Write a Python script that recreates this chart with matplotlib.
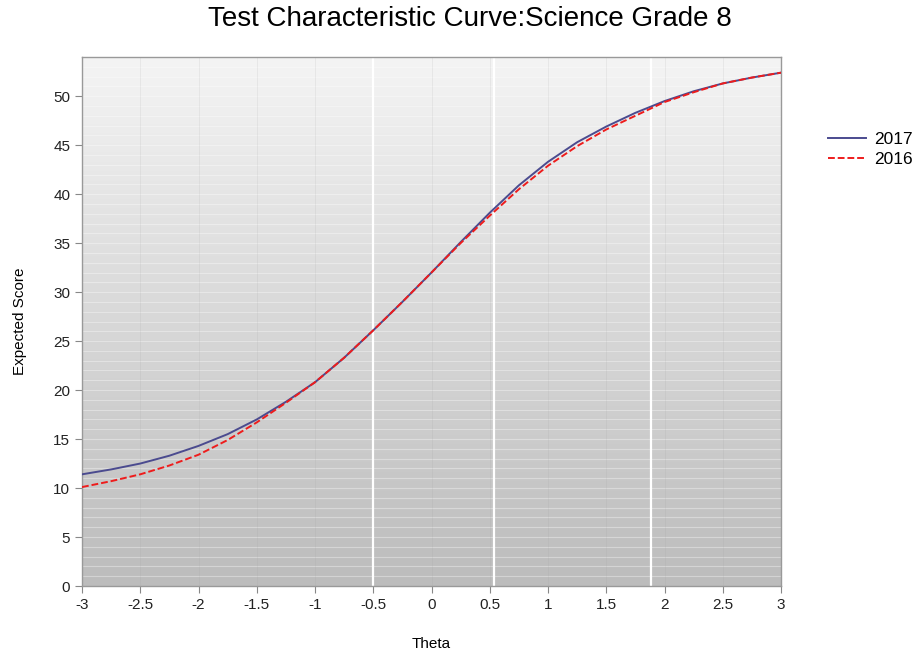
import numpy as np
import matplotlib
matplotlib.use("Agg")
import matplotlib.pyplot as plt
from matplotlib.lines import Line2D
from matplotlib.colors import LinearSegmentedColormap

plt.rcParams['font.family'] = ['Liberation Sans', 'DejaVu Sans']

theta = [-3, -2.75, -2.5, -2.25, -2, -1.75, -1.5, -1.25, -1, -0.75, -0.5, -0.25,
         0, 0.25, 0.5, 0.75, 1, 1.25, 1.5, 1.75, 2, 2.25, 2.5, 2.75, 3]
score_2017 = [11.4, 11.9, 12.5, 13.3, 14.3, 15.5, 17.0, 18.8, 20.8, 23.3, 26.1, 29.0,
              32.0, 35.1, 38.1, 40.9, 43.3, 45.3, 46.9, 48.3, 49.5, 50.5, 51.3, 51.9, 52.4]
score_2016 = [10.1, 10.7, 11.4, 12.3, 13.4, 14.9, 16.7, 18.7, 20.8, 23.3, 26.1, 29.0,
              32.0, 35.0, 37.8, 40.5, 42.9, 44.9, 46.6, 48.0, 49.4, 50.4, 51.3, 51.9, 52.4]
cut_lines = [-0.5, 0.535, 1.885]
x_ticks = [-3, -2.5, -2, -1.5, -1, -0.5, 0, 0.5, 1, 1.5, 2, 2.5, 3]
x_tick_labels = ['-3', '-2.5', '-2', '-1.5', '-1', '-0.5', '0', '0.5', '1', '1.5', '2', '2.5', '3']
y_ticks = [0, 5, 10, 15, 20, 25, 30, 35, 40, 45, 50]

fig = plt.figure(figsize=(9.22, 6.55), dpi=100)
ax = fig.add_axes([82/922, 1-586/655, (781-82)/922, (586-57)/655])
xmin, xmax, ymin, ymax = -3, 3, 0, 54
ax.set_xlim(xmin, xmax)
ax.set_ylim(ymin, ymax)

# gradient background
grad = np.linspace(0, 1, 256).reshape(-1, 1)
cmap = LinearSegmentedColormap.from_list('bg', ['#bcbcbc', '#f4f4f4'])
ax.imshow(grad, extent=[xmin, xmax, ymin, ymax], origin='lower', aspect='auto',
          cmap=cmap, zorder=0)

# horizontal grid lines every unit
for yv in range(1, 54):
    ax.axhline(yv, color='white', lw=0.8, alpha=0.35, zorder=1)
# vertical grid lines every 0.5
for xv in x_ticks[1:-1]:
    ax.axvline(xv, color='#999999', lw=0.6, alpha=0.15, zorder=1)
# cut lines
for xv in cut_lines:
    ax.axvline(xv, color='white', lw=1.6, zorder=2)

ax.plot(theta, score_2017, color='#4b4b8f', lw=1.4, zorder=3, label='2017',
        solid_joinstyle='round')
ax.plot(theta, score_2016, color='#ee1c1c', lw=1.4, ls=(0, (3.5, 1.5)), zorder=4, label='2016')

ax.set_xticks(x_ticks)
ax.set_xticklabels(x_tick_labels)
ax.set_yticks(y_ticks)
ax.tick_params(axis='both', labelsize=11, colors='#222222', length=5, width=0.8,
               direction='out')
ax.tick_params(axis='both', color='#888888')
for s in ax.spines.values():
    s.set_color('#999999')
    s.set_linewidth(1.0)

ax.set_xlabel('Theta', fontsize=11, labelpad=18)
ax.set_ylabel('Expected Score', fontsize=11, labelpad=19)
fig.text(470/922, 1-19/655, 'Test Characteristic Curve:Science Grade 8', ha='center', va='center',
         fontsize=20)

handles = [Line2D([], [], color='#4b4b8f', lw=1.4),
           Line2D([], [], color='#ee1c1c', lw=1.4, ls=(0, (3.5, 1.5)))]
fig.legend(handles, ['2017', '2016'], loc='upper left', bbox_to_anchor=(812/922, 1-116/655),
           frameon=False, fontsize=12.5, handlelength=2.2, handletextpad=0.5, labelspacing=0.3)

fig.savefig('out.png', dpi=100)
